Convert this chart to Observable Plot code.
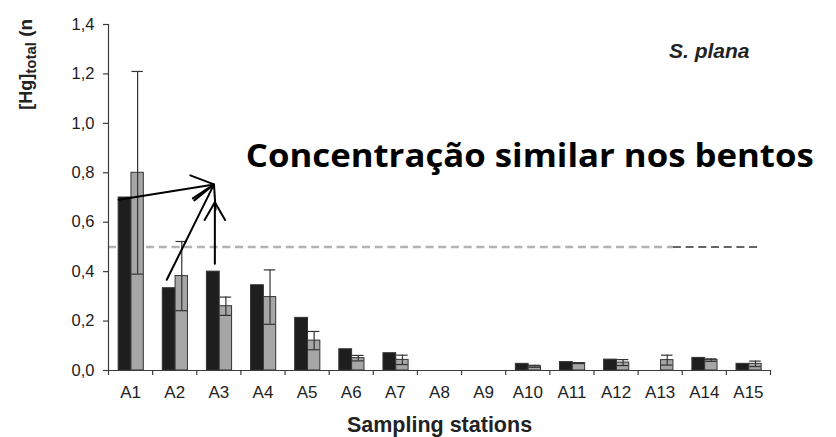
<!DOCTYPE html>
<html>
<head>
<meta charset="utf-8">
<script src="https://cdn.jsdelivr.net/npm/d3@7"></script>
<script src="https://cdn.jsdelivr.net/npm/@observablehq/plot@0.6"></script>
<style>
  html, body { margin: 0; padding: 0; background: #fff; }
  svg { display: block; }
</style>
</head>
<body>
<script>
// ---- data ----
const stations = ["A1","A2","A3","A4","A5","A6","A7","A8","A9","A10","A11","A12","A13","A14","A15"];
const blackValues = [0.70, 0.333, 0.40, 0.345, 0.213, 0.086, 0.07, 0, 0, 0.027, 0.034, 0.044, 0, 0.051, 0.027];
const grayValues  = [0.80, 0.382, 0.26, 0.297, 0.121, 0.05, 0.043, 0, 0, 0.017, 0.03, 0.032, 0.042, 0.042, 0.027];
const grayErrors  = [0.41, 0.14, 0.037, 0.11, 0.037, 0.011, 0.019, 0, 0, 0.004, 0.002, 0.012, 0.02, 0.005, 0.011];
const yTicks = [0, 0.2, 0.4, 0.6, 0.8, 1.0, 1.2, 1.4];
const threshold = 0.5;
const thresholdSplit = 13.3;   // where the light dashed line turns dark (station units)
const thresholdEnd = 15.25;
const arrows = [
  {x1: 0.73, y1: 0.691, x2: 2.89, y2: 0.753},
  {x1: 1.82, y1: 0.367, x2: 2.89, y2: 0.753},
  {x1: 2.91, y1: 0.432, x2: 2.91, y2: 0.681}
];
const headline = [{text: "Concentração similar nos bentos", x: 3.61, y: 0.823}];
const speciesLabel = [{text: "S. plana", x: 13.2, y: 1.263}];
const xTitle = "Sampling stations";
const yTitle = {main: "[Hg]", sub: "total", rest: " (n", y: 1.053};

// ---- derived tables ----
const centers = stations.map((d, i) => i + 1);
const boundaries = d3.range(0, stations.length + 1).map(i => i + 0.5);
const blackData = stations.map((s, i) => ({i: i + 1, v: blackValues[i]})).filter(d => d.v > 0);
const grayData = stations.map((s, i) => ({i: i + 1, v: grayValues[i], e: grayErrors[i]})).filter(d => d.v > 0);
const errData = grayData.filter(d => d.e > 0);

const fmt = d => d3.format(".1f")(d).replace(".", ",");
const axisColor = "#3c3c3c";

const chart = Plot.plot({
  width: 836,
  height: 437,
  marginLeft: 108,
  marginRight: 66,
  marginTop: 24,
  marginBottom: 67,
  x: {domain: [0.5, 15.5]},
  y: {domain: [0, 1.4]},
  style: {fontFamily: "'Liberation Sans', Arial, sans-serif", background: "#fff", color: "#222"},
  marks: [
    Plot.ruleY([threshold], {x1: 0.5, x2: thresholdSplit, stroke: "#b3b3b3", strokeWidth: 2.5, strokeDasharray: "8,4.7"}),
    Plot.ruleY([threshold], {x1: thresholdSplit, x2: thresholdEnd, stroke: "#333", strokeWidth: 1.6, strokeDasharray: "8,4.7"}),
    Plot.rectY(blackData, {x1: d => d.i - 0.27, x2: d => d.i + 0.02, y1: 0, y2: "v", fill: "#1e1e1e", stroke: "#333", strokeWidth: 1}),
    Plot.rectY(grayData, {x1: d => d.i + 0.02, x2: d => d.i + 0.30, y1: 0, y2: "v", fill: "#a6a6a6", stroke: "#333", strokeWidth: 1}),
    Plot.ruleX(errData, {x: d => d.i + 0.16, y1: d => d.v - d.e, y2: d => d.v + d.e, stroke: "#333", strokeWidth: 1.2}),
    Plot.ruleY(errData, {y: d => d.v + d.e, x1: d => d.i + 0.03, x2: d => d.i + 0.29, stroke: "#333", strokeWidth: 1.2}),
    Plot.ruleY(errData, {y: d => d.v - d.e, x1: d => d.i + 0.03, x2: d => d.i + 0.29, stroke: "#333", strokeWidth: 1.2}),
    Plot.ruleX([0.5], {stroke: axisColor, strokeWidth: 1.2}),
    Plot.ruleY([0], {stroke: axisColor, strokeWidth: 1.2}),
    Plot.axisY({ticks: yTicks, tickSize: 5, tickPadding: 9, tickFormat: fmt, fontSize: 16.5, label: null, stroke: axisColor, strokeWidth: 1.2}),
    Plot.axisX({ticks: boundaries, tickSize: 5, tickFormat: () => "", label: null, stroke: axisColor, strokeWidth: 1.2}),
    Plot.axisX({ticks: centers, tickSize: 0, tickPadding: 15, tickFormat: i => stations[i - 1], fontSize: 17, label: null}),
    Plot.arrow(arrows, {x1: "x1", y1: "y1", x2: "x2", y2: "y2", stroke: "#000", strokeWidth: 2, headLength: 19}),
    Plot.text(headline, {x: "x", y: "y", text: "text", textAnchor: "start", lineAnchor: "bottom", fontSize: 32.5, fontWeight: "bold", fontFamily: "'Open Sans', Lato, sans-serif", fill: "#000", className: "headline"}),
    Plot.text(speciesLabel, {x: "x", y: "y", text: "text", textAnchor: "start", lineAnchor: "bottom", fontSize: 21, fontWeight: "bold", fontStyle: "italic", fill: "#222"}),
    Plot.text([xTitle], {frameAnchor: "bottom", dy: 61, lineAnchor: "bottom", fontSize: 21.5, fontWeight: "bold", fill: "#222"})
  ]
});

document.body.appendChild(chart);

// fit the headline width to the reference
d3.select(chart).selectAll(".headline text").attr("textLength", 568).attr("lengthAdjust", "spacingAndGlyphs");

// rotated y-axis title with subscript
const yx = chart.scale("x").apply(0.5) - 76;
const yy = chart.scale("y").apply(yTitle.y);
const yl = d3.select(chart).append("text")
  .attr("transform", `translate(${yx},${yy}) rotate(-90)`)
  .attr("text-anchor", "start")
  .attr("font-family", "'Liberation Sans', Arial, sans-serif")
  .attr("font-weight", "bold")
  .attr("fill", "#222")
  .attr("font-size", 18);
yl.append("tspan").text(yTitle.main);
yl.append("tspan").attr("font-size", 15).attr("dy", 4).text(yTitle.sub);
yl.append("tspan").attr("dy", -4).attr("font-size", 19).text(yTitle.rest);
</script>
</body>
</html>
